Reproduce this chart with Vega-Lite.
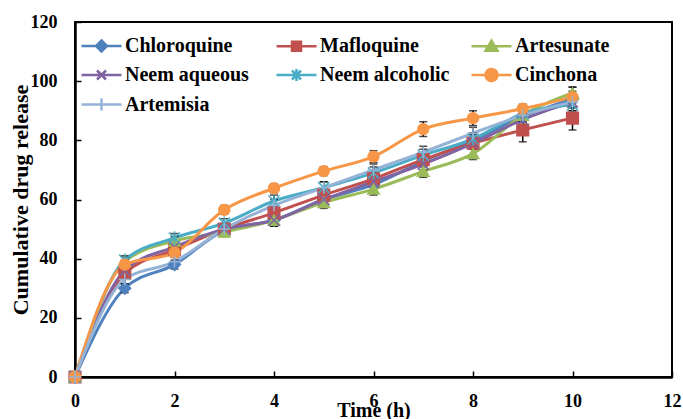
{
  "$schema": "https://vega.github.io/schema/vega-lite/v6.json",
  "width": 597,
  "height": 355,
  "autosize": {"type": "none"},
  "padding": {"left": 75, "top": 22, "right": 11, "bottom": 42},
  "background": "white",
  "config": {
    "font": "Liberation Serif",
    "view": {"stroke": "black", "strokeWidth": 2},
    "axis": {"grid": false, "labelFlush": false, "domainColor": "black", "domainWidth": 2.5, "tickColor": "black", "tickWidth": 1.5, "labelFont": "Liberation Serif", "labelFontWeight": "bold", "labelFontSize": 18, "labelColor": "black", "titleFont": "Liberation Serif", "titleFontWeight": "bold", "titleColor": "black"}
  },
  "data": {"values": [
    {"series": "Chloroquine", "time": 0, "release": 0, "err": 0},
    {"series": "Chloroquine", "time": 1, "release": 30, "err": 1.5},
    {"series": "Chloroquine", "time": 2, "release": 38, "err": 1.5},
    {"series": "Chloroquine", "time": 3, "release": 49.5, "err": 1.5},
    {"series": "Chloroquine", "time": 4, "release": 53, "err": 2},
    {"series": "Chloroquine", "time": 5, "release": 60, "err": 2},
    {"series": "Chloroquine", "time": 6, "release": 65, "err": 2},
    {"series": "Chloroquine", "time": 7, "release": 73, "err": 2},
    {"series": "Chloroquine", "time": 8, "release": 80, "err": 2},
    {"series": "Chloroquine", "time": 9, "release": 88, "err": 2},
    {"series": "Chloroquine", "time": 10, "release": 94, "err": 4},
    {"series": "Mafloquine", "time": 0, "release": 0, "err": 0},
    {"series": "Mafloquine", "time": 1, "release": 35, "err": 1.5},
    {"series": "Mafloquine", "time": 2, "release": 43, "err": 1.5},
    {"series": "Mafloquine", "time": 3, "release": 50, "err": 1.5},
    {"series": "Mafloquine", "time": 4, "release": 55.5, "err": 2},
    {"series": "Mafloquine", "time": 5, "release": 61.5, "err": 2},
    {"series": "Mafloquine", "time": 6, "release": 67, "err": 2},
    {"series": "Mafloquine", "time": 7, "release": 73.5, "err": 2},
    {"series": "Mafloquine", "time": 8, "release": 79, "err": 2},
    {"series": "Mafloquine", "time": 9, "release": 83.5, "err": 4},
    {"series": "Mafloquine", "time": 10, "release": 87.5, "err": 4},
    {"series": "Artesunate", "time": 0, "release": 0, "err": 0},
    {"series": "Artesunate", "time": 1, "release": 39, "err": 1.5},
    {"series": "Artesunate", "time": 2, "release": 46, "err": 1.5},
    {"series": "Artesunate", "time": 3, "release": 49, "err": 1.5},
    {"series": "Artesunate", "time": 4, "release": 53, "err": 2},
    {"series": "Artesunate", "time": 5, "release": 59, "err": 2},
    {"series": "Artesunate", "time": 6, "release": 63.5, "err": 2},
    {"series": "Artesunate", "time": 7, "release": 69.5, "err": 2},
    {"series": "Artesunate", "time": 8, "release": 75.5, "err": 2},
    {"series": "Artesunate", "time": 9, "release": 88.5, "err": 2},
    {"series": "Artesunate", "time": 10, "release": 96, "err": 2},
    {"series": "Neem aqueous", "time": 0, "release": 0, "err": 0},
    {"series": "Neem aqueous", "time": 1, "release": 36, "err": 1.5},
    {"series": "Neem aqueous", "time": 2, "release": 44, "err": 1.5},
    {"series": "Neem aqueous", "time": 3, "release": 50, "err": 1.5},
    {"series": "Neem aqueous", "time": 4, "release": 53, "err": 2},
    {"series": "Neem aqueous", "time": 5, "release": 60, "err": 2},
    {"series": "Neem aqueous", "time": 6, "release": 66, "err": 2},
    {"series": "Neem aqueous", "time": 7, "release": 72, "err": 2},
    {"series": "Neem aqueous", "time": 8, "release": 79, "err": 2},
    {"series": "Neem aqueous", "time": 9, "release": 87, "err": 2},
    {"series": "Neem aqueous", "time": 10, "release": 93, "err": 2},
    {"series": "Neem alcoholic", "time": 0, "release": 0, "err": 0},
    {"series": "Neem alcoholic", "time": 1, "release": 39.5, "err": 1.5},
    {"series": "Neem alcoholic", "time": 2, "release": 47, "err": 1.5},
    {"series": "Neem alcoholic", "time": 3, "release": 52, "err": 1.5},
    {"series": "Neem alcoholic", "time": 4, "release": 59.5, "err": 2},
    {"series": "Neem alcoholic", "time": 5, "release": 64, "err": 2},
    {"series": "Neem alcoholic", "time": 6, "release": 69, "err": 2},
    {"series": "Neem alcoholic", "time": 7, "release": 75, "err": 2},
    {"series": "Neem alcoholic", "time": 8, "release": 80.5, "err": 2},
    {"series": "Neem alcoholic", "time": 9, "release": 89, "err": 2},
    {"series": "Neem alcoholic", "time": 10, "release": 92, "err": 2},
    {"series": "Cinchona", "time": 0, "release": 0, "err": 0},
    {"series": "Cinchona", "time": 1, "release": 38, "err": 1.5},
    {"series": "Cinchona", "time": 2, "release": 42, "err": 1.5},
    {"series": "Cinchona", "time": 3, "release": 56.5, "err": 1.5},
    {"series": "Cinchona", "time": 4, "release": 63.8, "err": 1.5},
    {"series": "Cinchona", "time": 5, "release": 69.6, "err": 1.5},
    {"series": "Cinchona", "time": 6, "release": 74.5, "err": 2},
    {"series": "Cinchona", "time": 7, "release": 83.8, "err": 2.5},
    {"series": "Cinchona", "time": 8, "release": 87.5, "err": 2.5},
    {"series": "Cinchona", "time": 9, "release": 90.7, "err": 1.5},
    {"series": "Cinchona", "time": 10, "release": 94.6, "err": 2},
    {"series": "Artemisia", "time": 0, "release": 0, "err": 0},
    {"series": "Artemisia", "time": 1, "release": 33, "err": 1.5},
    {"series": "Artemisia", "time": 2, "release": 39, "err": 1.5},
    {"series": "Artemisia", "time": 3, "release": 50, "err": 1.5},
    {"series": "Artemisia", "time": 4, "release": 58, "err": 2},
    {"series": "Artemisia", "time": 5, "release": 64, "err": 2},
    {"series": "Artemisia", "time": 6, "release": 70, "err": 2},
    {"series": "Artemisia", "time": 7, "release": 76, "err": 2},
    {"series": "Artemisia", "time": 8, "release": 82.4, "err": 2},
    {"series": "Artemisia", "time": 9, "release": 88.5, "err": 2},
    {"series": "Artemisia", "time": 10, "release": 93, "err": 2}
  ]},
  "encoding": {
    "x": {"field": "time", "type": "quantitative", "scale": {"domain": [0, 12], "nice": false}, "axis": {"values": [0, 2, 4, 6, 8, 10, 12], "tickSize": -6, "labelPadding": 21, "title": "Time (h)", "titleFontSize": 20, "titlePadding": -10}},
    "y": {"field": "release", "type": "quantitative", "scale": {"domain": [0, 120], "nice": false}, "axis": {"values": [0, 20, 40, 60, 80, 100, 120], "tickSize": -6, "labelPadding": 24, "title": "Cumulative drug release", "titleFontSize": 22, "titlePadding": -2}}
  },
  "layer": [
    {
      "mark": {"type": "line", "interpolate": "monotone", "strokeWidth": 3},
      "encoding": {
        "color": {"field": "series", "type": "nominal", "legend": null, "scale": {"domain": ["Chloroquine", "Mafloquine", "Artesunate", "Neem aqueous", "Neem alcoholic", "Cinchona", "Artemisia"], "range": ["#4F81BD", "#C0504D", "#9BBB59", "#8064A2", "#4BACC6", "#F79646", "#95B3D7"]}},
        "order": {"field": "time", "type": "quantitative"}
      }
    },
    {
      "mark": {"type": "errorbar", "ticks": {"size": 8}, "color": "black", "thickness": 1.5},
      "encoding": {
        "yError": {"field": "err"},
        "detail": {"field": "series", "type": "nominal"}
      }
    },
    {
      "mark": {"type": "point", "filled": true, "opacity": 1, "strokeWidth": 1.5},
      "encoding": {
        "fill": {"field": "series", "type": "nominal", "legend": null, "scale": {"domain": ["Chloroquine", "Mafloquine", "Artesunate", "Neem aqueous", "Neem alcoholic", "Cinchona", "Artemisia"], "range": ["#4F81BD", "#C0504D", "#9BBB59", "#8064A2", "#4BACC6", "#F79646", "#95B3D7"]}},
        "stroke": {"field": "series", "type": "nominal", "legend": null, "scale": {"domain": ["Chloroquine", "Mafloquine", "Artesunate", "Neem aqueous", "Neem alcoholic", "Cinchona", "Artemisia"], "range": ["#4F81BD", "#C0504D", "#9BBB59", "#8064A2", "#4BACC6", "#F79646", "#95B3D7"]}},
        "shape": {"field": "series", "type": "nominal", "legend": null, "scale": {"domain": ["Chloroquine", "Mafloquine", "Artesunate", "Neem aqueous", "Neem alcoholic", "Cinchona", "Artemisia"], "range": ["diamond", "square", "triangle-up", "M-1,-1L1,1M-1,1L1,-1", "M-1,-1L1,1M-1,1L1,-1M0,-1.2L0,1.2", "circle", "M-1.1,0H1.1M0,-1.1V1.1"]}},
        "size": {"field": "series", "type": "nominal", "legend": null, "scale": {"domain": ["Chloroquine", "Mafloquine", "Artesunate", "Neem aqueous", "Neem alcoholic", "Cinchona", "Artemisia"], "range": [140, 115, 140, 110, 120, 170, 140]}}
      }
    },
    {
      "mark": {"type": "point", "filled": true, "opacity": 0},
      "encoding": {
        "fill": {"field": "series", "type": "nominal", "scale": {"domain": ["Chloroquine", "Mafloquine", "Artesunate", "Neem aqueous", "Neem alcoholic", "Cinchona", "Artemisia"], "range": ["#4F81BD", "#C0504D", "#9BBB59", "#8064A2", "#4BACC6", "#F79646", "#95B3D7"]}, "legend": {"title": null, "orient": "none", "legendX": 5, "legendY": 12, "columns": 3, "direction": "horizontal", "gridAlign": "all", "columnPadding": 16, "rowPadding": 6.5, "symbolSize": 400, "symbolStrokeWidth": 2.5, "symbolOpacity": 1, "labelOffset": 22, "labelFont": "Liberation Serif", "labelFontWeight": "bold", "labelFontSize": 20, "labelColor": "black", "labelLimit": 300, "padding": 0}},
        "stroke": {"field": "series", "type": "nominal", "scale": {"domain": ["Chloroquine", "Mafloquine", "Artesunate", "Neem aqueous", "Neem alcoholic", "Cinchona", "Artemisia"], "range": ["#4F81BD", "#C0504D", "#9BBB59", "#8064A2", "#4BACC6", "#F79646", "#95B3D7"]}, "legend": {"title": null, "orient": "none", "legendX": 5, "legendY": 12, "columns": 3, "direction": "horizontal", "gridAlign": "all", "columnPadding": 16, "rowPadding": 6.5, "symbolSize": 400, "symbolStrokeWidth": 2.5, "symbolOpacity": 1, "labelOffset": 22, "labelFont": "Liberation Serif", "labelFontWeight": "bold", "labelFontSize": 20, "labelColor": "black", "labelLimit": 300, "padding": 0}},
        "shape": {"field": "series", "type": "nominal", "scale": {"domain": ["Chloroquine", "Mafloquine", "Artesunate", "Neem aqueous", "Neem alcoholic", "Cinchona", "Artemisia"], "range": [
          "M-1,0H3M1,-0.55L1.55,0L1,0.55L0.45,0Z",
          "M-1,0H3M0.55,-0.45H1.45V0.45H0.55Z",
          "M-1,0H3M1,-0.55L1.6,0.45H0.4Z",
          "M-1,0H3M0.55,-0.45L1.45,0.45M0.55,0.45L1.45,-0.45",
          "M-1,0H3M0.55,-0.45L1.45,0.45M0.55,0.45L1.45,-0.45M1,-0.6V0.6",
          "M-1,0H3M0.4,0A0.6,0.6 0 1,0 1.6,0A0.6,0.6 0 1,0 0.4,0Z",
          "M-1,0H3M1,-0.6V0.6"
        ]},
          "legend": {"title": null, "orient": "none", "legendX": 5, "legendY": 12, "columns": 3, "direction": "horizontal", "gridAlign": "all", "columnPadding": 16, "rowPadding": 6.5, "symbolSize": 400, "symbolStrokeWidth": 2.5, "symbolOpacity": 1, "labelOffset": 22, "labelFont": "Liberation Serif", "labelFontWeight": "bold", "labelFontSize": 20, "labelColor": "black", "labelLimit": 300, "padding": 0}
        },
        "size": {"value": 110}
      }
    }
  ],
  "resolve": {"scale": {"shape": "independent", "fill": "independent", "stroke": "independent", "size": "independent"}}
}
